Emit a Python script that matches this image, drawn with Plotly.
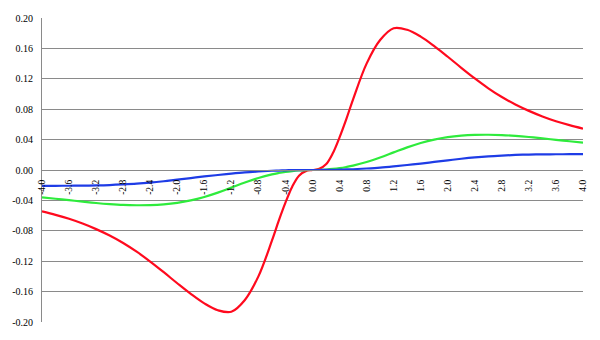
import plotly.graph_objects as go

# x positions
x_pos = [0.0, 0.1, 0.2, 0.3, 0.4, 0.5, 0.6, 0.8, 1.0, 1.2, 1.4, 1.6, 1.8, 2.0,
         2.2, 2.4, 2.6, 2.8, 3.0, 3.2, 3.4, 3.6, 3.8, 4.0]

# values for x >= 0 (curves are odd: f(-x) = -f(x))
red_pos = [0.0, 0.0015, 0.0075, 0.022, 0.043, 0.067, 0.093, 0.140, 0.171, 0.1865, 0.1845, 0.1755, 0.163, 0.149,
           0.1345, 0.1205, 0.1075, 0.096, 0.0862, 0.0778, 0.0705, 0.0642, 0.059, 0.0545]
green_pos = [0.0, 0.0001, 0.0006, 0.0014, 0.0025, 0.004, 0.0058, 0.0105, 0.0165, 0.0232, 0.0298, 0.0355, 0.040, 0.0432,
             0.0452, 0.0462, 0.0464, 0.046, 0.0449, 0.0434, 0.0416, 0.0397, 0.0378, 0.036]
blue_pos = [0.0, 0.0, 0.0001, 0.0002, 0.0004, 0.0007, 0.001, 0.002, 0.0032, 0.0048, 0.0066, 0.0085, 0.0106, 0.0127,
            0.0148, 0.0166, 0.018, 0.019, 0.0198, 0.0203, 0.0206, 0.0207, 0.0208, 0.0208]

x_all = [-v for v in reversed(x_pos[1:])] + x_pos
red = [-v for v in reversed(red_pos[1:])] + red_pos
green = [-v for v in reversed(green_pos[1:])] + green_pos
blue = [-v for v in reversed(blue_pos[1:])] + blue_pos

x_tick_vals = [-4.0, -3.6, -3.2, -2.8, -2.4, -2.0, -1.6, -1.2, -0.8, -0.4, 0.0,
               0.4, 0.8, 1.2, 1.6, 2.0, 2.4, 2.8, 3.2, 3.6, 4.0]
x_tick_text = ["-4.0", "-3.6", "-3.2", "-2.8", "-2.4", "-2.0", "-1.6", "-1.2", "-0.8", "-0.4", "0.0",
               "0.4", "0.8", "1.2", "1.6", "2.0", "2.4", "2.8", "3.2", "3.6", "4.0"]
y_tick_vals = [0.20, 0.16, 0.12, 0.08, 0.04, 0.0, -0.04, -0.08, -0.12, -0.16, -0.20]
y_tick_text = ["0.20", "0.16", "0.12", "0.08", "0.04", "0.00", "-0.04", "-0.08", "-0.12", "-0.16", "-0.20"]

fig = go.Figure()
fig.add_trace(go.Scatter(x=x_all, y=red, mode="lines", line=dict(color="#FF0A1E", width=2.2, shape="spline"), showlegend=False))
fig.add_trace(go.Scatter(x=x_all, y=green, mode="lines", line=dict(color="#2EEB3C", width=2.2, shape="spline"), showlegend=False))
fig.add_trace(go.Scatter(x=x_all, y=blue, mode="lines", line=dict(color="#1E3CE6", width=2.2, shape="spline"), showlegend=False))

fig.update_layout(
    width=600, height=340,
    margin=dict(l=36, r=13, t=12, b=13),
    paper_bgcolor="white", plot_bgcolor="white",
    font=dict(family="Liberation Serif", size=10, color="black"),
    xaxis=dict(range=[-4, 4], tickvals=x_tick_vals, ticktext=x_tick_text, tickangle=-90,
               showgrid=False, zeroline=False, showline=True, linecolor="#8a8a8a", linewidth=1,
               anchor="free", position=0.5, ticks="outside", ticklen=5, tickcolor="rgba(0,0,0,0)",
               tickfont=dict(family="Liberation Serif", size=9.5, color="black")),
    yaxis=dict(range=[-0.2, 0.2], tickvals=y_tick_vals, ticktext=y_tick_text,
               showgrid=True, gridcolor="#8a8a8a", gridwidth=1, zeroline=False,
               showline=True, linecolor="#8a8a8a", linewidth=1,
               ticks="outside", ticklen=6, tickcolor="rgba(0,0,0,0)",
               tickfont=dict(family="Liberation Serif", size=10, color="black")),
)

fig.write_html("out.html")
